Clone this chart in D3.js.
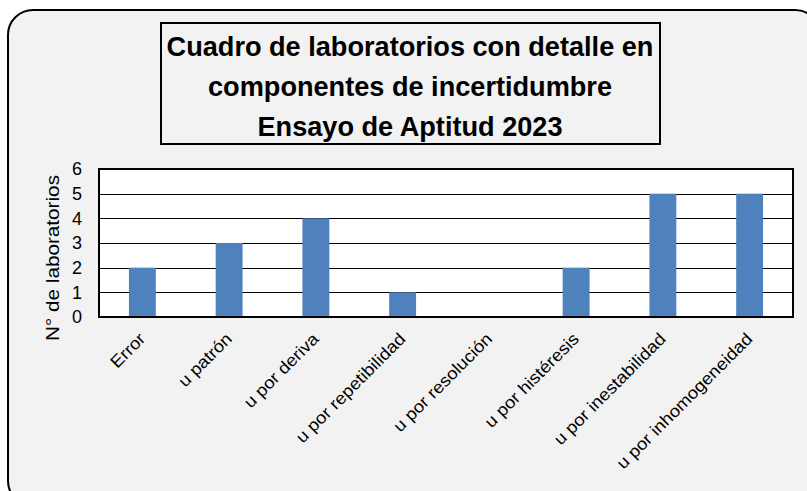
<!DOCTYPE html>
<html>
<head>
<meta charset="utf-8">
<script src="https://cdn.jsdelivr.net/npm/d3@7"></script>
<style>
  body { margin: 0; background: #ffffff; }
  svg { display: block; }
</style>
</head>
<body>
<div id="chart"></div>
<script>
// chart data
const categories = ["Error", "u patrón", "u por deriva", "u por repetibilidad",
    "u por resolución", "u por histéresis", "u por inestabilidad", "u por inhomogeneidad"];
const values = [2, 3, 4, 1, 0, 2, 5, 5];
const yTicks = [0, 1, 2, 3, 4, 5, 6];
const titleLines = ["Cuadro de laboratorios con detalle en",
    "componentes de incertidumbre", "Ensayo de Aptitud 2023"];
const yTitle = "N° de laboratorios";

const W = 807, H = 491;
const plot = {left: 99, right: 793, top: 169, bottom: 317};
const font = "'Liberation Sans', Arial, sans-serif";

const svg = d3.select("#chart").append("svg")
    .attr("width", W)
    .attr("height", H);

// outer rounded frame
svg.append("rect")
    .attr("x", 8).attr("y", 10)
    .attr("width", 812).attr("height", 496)
    .attr("rx", 25).attr("ry", 25)
    .attr("fill", "#f2f2f2")
    .attr("stroke", "#000")
    .attr("stroke-width", 2);

// title box
svg.append("rect")
    .attr("x", 161).attr("y", 23)
    .attr("width", 499).attr("height", 121)
    .attr("fill", "#f2f2f2")
    .attr("stroke", "#000")
    .attr("stroke-width", 2);

const titleG = svg.append("g");
const titleText = titleG.selectAll("text")
    .data(titleLines)
    .join("text")
    .attr("x", 0)
    .attr("y", (d, i) => 56 + i * 40)
    .attr("text-anchor", "middle")
    .style("font-family", font)
    .style("font-weight", "bold")
    .style("font-size", "28px")
    .attr("fill", "#000")
    .text(d => d);
// squeeze the title horizontally so the first line is as wide as in the picture
const firstLen = titleText.node().getComputedTextLength();
titleG.attr("transform", `translate(410,0) scale(${487 / firstLen},1)`);

const x = d3.scaleBand()
    .domain(categories)
    .range([plot.left, plot.right])
    .paddingInner(0.69)
    .paddingOuter(0.345);

const y = d3.scaleLinear()
    .domain([0, 6])
    .range([plot.bottom, plot.top]);

// plot background
svg.append("rect")
    .attr("x", plot.left).attr("y", plot.top)
    .attr("width", plot.right - plot.left)
    .attr("height", plot.bottom - plot.top)
    .attr("fill", "#fff");

// gridlines
svg.append("g")
    .selectAll("line")
    .data(yTicks.filter(t => t > 0 && t < 6))
    .join("line")
    .attr("x1", plot.left).attr("x2", plot.right)
    .attr("y1", d => Math.round(y(d)) + 0.5)
    .attr("y2", d => Math.round(y(d)) + 0.5)
    .attr("stroke", "#000")
    .attr("stroke-width", 1.2);

// bars
svg.append("g")
    .selectAll("rect")
    .data(values)
    .join("rect")
    .attr("x", (d, i) => x(categories[i]))
    .attr("width", x.bandwidth())
    .attr("y", d => y(d))
    .attr("height", d => y(0) - y(d))
    .attr("fill", "#4f81bd");

// plot border
svg.append("rect")
    .attr("x", plot.left).attr("y", plot.top)
    .attr("width", plot.right - plot.left)
    .attr("height", plot.bottom - plot.top)
    .attr("fill", "none")
    .attr("stroke", "#000")
    .attr("stroke-width", 2);

// y axis labels
const yAxis = svg.append("g")
    .attr("transform", `translate(${plot.left},0)`)
    .call(d3.axisLeft(y).tickValues(yTicks).tickSize(0).tickPadding(17).tickFormat(d3.format("d")));
yAxis.select(".domain").remove();
yAxis.selectAll("text")
    .style("font-family", font)
    .style("font-size", "18px")
    .attr("fill", "#000");

// y axis title
const yT = svg.append("text")
    .attr("transform", "translate(59,258) rotate(-90)")
    .attr("text-anchor", "middle")
    .style("font-family", font)
    .style("font-size", "19px")
    .attr("fill", "#000")
    .text(yTitle);
const yLen = yT.node().getComputedTextLength();
yT.attr("textLength", 166).attr("lengthAdjust", "spacingAndGlyphs");

// x labels, rotated
const xLabels = svg.append("g")
    .selectAll("text")
    .data(categories)
    .join("text")
    .attr("transform", d => `translate(${x(d) + x.bandwidth() / 2 + 4},${plot.bottom + 23}) rotate(-45)`)
    .attr("text-anchor", "end")
    .style("font-family", font)
    .style("font-size", "17px")
    .attr("fill", "#000")
    .text(d => d);
// narrow the labels a little, like the original font
const longest = xLabels.filter((d, i) => i === categories.length - 1).node().getComputedTextLength();
const squeeze = 184 / longest;
xLabels.each(function() {
    const len = this.getComputedTextLength();
    d3.select(this).attr("textLength", len * squeeze).attr("lengthAdjust", "spacingAndGlyphs");
});
</script>
</body>
</html>
